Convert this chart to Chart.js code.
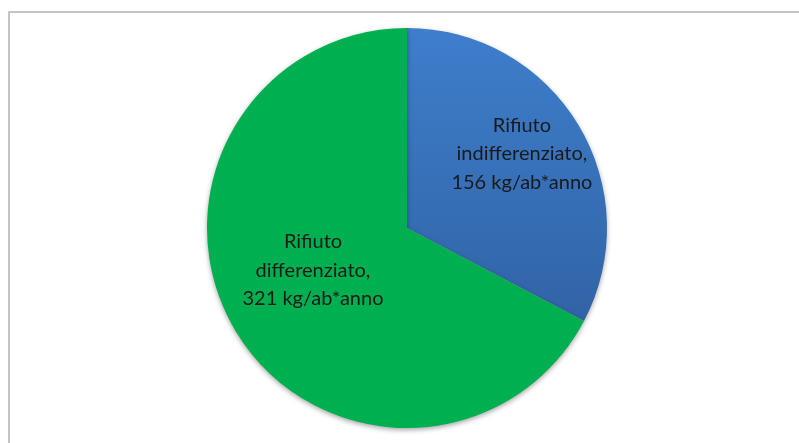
<html>
<head>
<script src="https://cdn.jsdelivr.net/npm/chart.js"></script>
<style>
html,body{margin:0;padding:0;background:#fff;font-family:Lato;}
#frame{position:absolute;left:8px;top:11px;width:820px;height:460px;border:2px solid #c4c4c4;box-sizing:border-box;}
#wrap{position:absolute;left:0;top:0;width:799px;height:443px;}
</style>
<script type="text/javascript">
var categories = ["Rifiuto indifferenziato", "Rifiuto differenziato"];
var values = [156, 321];
var labelLines = [
  ["Rifiuto", "indifferenziato,", "156 kg/ab*anno"],
  ["Rifiuto", "differenziato,", "321 kg/ab*anno"]
];

// where to put each label inside its slice (fraction of radius + angle nudge)
var labelPos = [{r: 0.684, da: -0.03}, {r: 0.515, da: 0.122}];

var pieShadow = {
  id: 'pieShadow',
  beforeDatasetDraw: function (chart) {
    var ctx = chart.ctx;
    ctx.save();
    ctx.shadowColor = 'rgba(0,0,0,0.35)';
    ctx.shadowBlur = 5;
    ctx.shadowOffsetY = 2;
  },
  afterDatasetDraw: function (chart) {
    chart.ctx.restore();
  }
};

var sliceLabels = {
  id: 'sliceLabels',
  afterDatasetsDraw: function (chart) {
    var ctx = chart.ctx;
    var meta = chart.getDatasetMeta(0);
    ctx.save();
    ctx.font = '20px Lato';
    ctx.fillStyle = '#1a1a1a';
    ctx.textAlign = 'center';
    ctx.textBaseline = 'middle';
    meta.data.forEach(function (arc, i) {
      var p = arc.getProps(['x', 'y', 'startAngle', 'endAngle', 'outerRadius'], true);
      var a = (p.startAngle + p.endAngle) / 2 + labelPos[i].da;
      var r = p.outerRadius * labelPos[i].r;
      var cx = p.x + Math.cos(a) * r;
      var cy = p.y + Math.sin(a) * r;
      var lines = labelLines[i];
      lines.forEach(function (t, k) {
        ctx.fillText(t, cx, cy + (k - (lines.length - 1) / 2) * 28.5);
      });
    });
    ctx.restore();
  }
};

function init() {
  var ctx = document.getElementById("pie");
  new Chart(ctx, {
    type: 'pie',
    data: {
      labels: categories,
      datasets: [{
        data: values,
        backgroundColor: function (c) {
          if (c.dataIndex === 0) {
            var area = c.chart.chartArea;
            if (!area) return '#3a73c0';
            var g = c.chart.ctx.createLinearGradient(0, area.top, 0, area.bottom);
            g.addColorStop(0, '#3e7ecc');
            g.addColorStop(1, '#2c5a98');
            return g;
          }
          return '#00b050';
        },
        borderWidth: 0
      }]
    },
    options: {
      responsive: false,
      animation: false,
      layout: {padding: {left: 15, right: 0, top: 28, bottom: 15}},
      plugins: {legend: {display: false}, tooltip: {enabled: false}}
    },
    plugins: [pieShadow, sliceLabels]
  });
}
</script>
</head>
<body onLoad="init()">
<div id="frame"></div>
<div id="wrap"><canvas id="pie" width="799" height="443"></canvas></div>
</body>
</html>
